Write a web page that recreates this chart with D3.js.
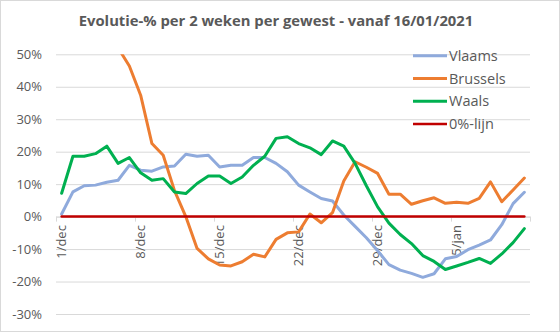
<!DOCTYPE html>
<html>
<head>
<meta charset="utf-8">
<script src="https://cdn.jsdelivr.net/npm/d3@7"></script>
<style>
  html, body { margin: 0; padding: 0; background: #fff; }
  svg { display: block; }
  text { font-family: "Open Sans", "Noto Sans", sans-serif; fill: #595959; }
</style>
</head>
<body>
<svg id="chart" width="560" height="332"></svg>
<script>
// Days from 1 December 2020 to 11 January 2021
const days = [
  "1/dec","2/dec","3/dec","4/dec","5/dec","6/dec","7/dec","8/dec","9/dec","10/dec",
  "11/dec","12/dec","13/dec","14/dec","15/dec","16/dec","17/dec","18/dec","19/dec","20/dec",
  "21/dec","22/dec","23/dec","24/dec","25/dec","26/dec","27/dec","28/dec","29/dec","30/dec",
  "31/dec","1/jan","2/jan","3/jan","4/jan","5/jan","6/jan","7/jan","8/jan","9/jan",
  "10/jan","11/jan"
];

// Two-week evolution in % per region
const vlaams = [
  0.8, 7.6, 9.5, 9.7, 10.6, 11.2, 15.8, 14.3, 14.0, 15.3,
  15.6, 19.2, 18.6, 18.9, 15.3, 15.8, 15.8, 18.2, 18.2, 16.4,
  13.8, 9.7, 7.6, 5.6, 4.8, 0.5, -3.0, -6.5, -10.5, -14.8,
  -16.5, -17.5, -18.7, -17.6, -13.0, -12.3, -10.2, -8.8, -7.2, -2.5,
  4.0, 7.5
];
const brussels = [
  null, null, null, null, null, 52, 46.4, 37.4, 22.5, 18.9,
  8.0, 0.0, -9.8, -13.0, -14.9, -15.2, -13.9, -11.6, -12.4, -7.0,
  -5.0, -4.7, 0.8, -1.9, 1.2, 11.0, 16.9, 15.2, 13.3, 6.9,
  6.9, 3.8, 4.9, 5.8, 4.1, 4.4, 4.1, 5.6, 10.7, 4.6,
  8.2, 11.9
];
const waals = [
  7.2, 18.6, 18.6, 19.4, 21.7, 16.4, 18.2, 13.5, 11.2, 11.7,
  7.6, 7.1, 10.2, 12.5, 12.5, 10.2, 12.2, 15.8, 18.6, 24.1,
  24.6, 22.5, 21.2, 19.1, 23.3, 21.7, 16.4, 9.5, 3.0, -2.0,
  -5.5, -8.3, -12.0, -13.8, -16.3, -15.2, -14.1, -12.9, -14.4, -11.5,
  -8.0, -3.7
];
const nulLijn = [
  0, 0, 0, 0, 0, 0, 0, 0, 0, 0,
  0, 0, 0, 0, 0, 0, 0, 0, 0, 0,
  0, 0, 0, 0, 0, 0, 0, 0, 0, 0,
  0, 0, 0, 0, 0, 0, 0, 0, 0, 0,
  0, 0
];

const seriesNames = ["Vlaams", "Brussels", "Waals", "0%-lijn"];
const seriesColors = ["#8FAADC", "#ED7D31", "#00B050", "#C00000"];
const seriesWidths = [3, 3, 3, 2.5];
const seriesValues = [vlaams, brussels, waals, nulLijn];

const yTicks = [-30, -20, -10, 0, 10, 20, 30, 40, 50];
const xLabels = ["1/dec", "8/dec", "15/dec", "22/dec", "29/dec", "5/jan"];
const titleText = "Evolutie-% per 2 weken per gewest - vanaf 16/01/2021";

const svg = d3.select("#chart");
const W = 560, H = 332;
const plot = { left: 56, right: 530, top: 54.3, bottom: 314 };

// chart border
svg.append("rect")
  .attr("x", 0.5).attr("y", 0.5)
  .attr("width", W - 1).attr("height", H - 1)
  .attr("fill", "#fff").attr("stroke", "#D9D9D9");

const x = d3.scaleBand().domain(days).range([plot.left, plot.right]).padding(0);
const xEdge = d3.scaleLinear().domain([0, days.length]).range([plot.left, plot.right]);
const y = d3.scaleLinear().domain([-30, 50]).range([plot.bottom, plot.top]);

// title
svg.append("text")
  .attr("x", 276).attr("y", 25.5)
  .attr("text-anchor", "middle")
  .style("font-size", "14.8px")
  .style("font-weight", "bold")
  .text(titleText);

// horizontal gridlines + value labels
const yAxis = d3.axisLeft(y)
  .tickValues(yTicks)
  .tickSize(-(plot.right - plot.left))
  .tickPadding(14)
  .tickFormat(d => d + "%");
const gy = svg.append("g")
  .attr("transform", `translate(${plot.left},0)`)
  .call(yAxis);
gy.select(".domain").remove();
gy.selectAll(".tick line").attr("stroke", "#D9D9D9");
gy.selectAll(".tick text")
  .style("font-size", "13px")
  .style("font-family", "'Open Sans', sans-serif")
  .attr("fill", "#595959");

// category axis at 0%: tick marks on week boundaries
const gx = svg.append("g")
  .attr("transform", `translate(0,${y(0)})`)
  .call(d3.axisBottom(xEdge).tickValues([0, 7, 14, 21, 28, 35, 42]).tickSize(5).tickSizeOuter(0).tickFormat(""));
gx.select(".domain").attr("stroke", "#D9D9D9");
gx.selectAll(".tick line").attr("stroke", "#D9D9D9");

// date labels, rotated, centred on their day
const gl = svg.append("g")
  .attr("transform", `translate(0,${y(0)})`)
  .call(d3.axisBottom(x).tickValues(xLabels).tickSize(0));
gl.select(".domain").remove();
gl.selectAll(".tick text")
  .attr("transform", "rotate(-90)")
  .attr("text-anchor", "end")
  .attr("x", -8.5)
  .attr("y", 0)
  .attr("dy", "0.36em")
  .style("font-size", "13px")
  .style("font-family", "'Open Sans', sans-serif")
  .attr("fill", "#595959");

// clip lines to the value range
svg.append("clipPath").attr("id", "plotclip")
  .append("rect")
  .attr("x", plot.left).attr("y", plot.top)
  .attr("width", plot.right - plot.left).attr("height", plot.bottom - plot.top);

const line = d3.line()
  .defined(d => d.v !== null)
  .x(d => x(d.day) + x.bandwidth() / 2)
  .y(d => y(d.v));

const lines = svg.append("g").attr("clip-path", "url(#plotclip)");
seriesValues.forEach((vals, k) => {
  lines.append("path")
    .datum(vals.map((v, i) => ({ day: days[i], v })))
    .attr("fill", "none")
    .attr("stroke", seriesColors[k])
    .attr("stroke-width", seriesWidths[k])
    .attr("stroke-linejoin", "round")
    .attr("stroke-linecap", "round")
    .attr("d", line);
});

// legend
const legend = svg.append("g");
seriesNames.forEach((name, k) => {
  const ly = 55.7 + k * 22.8;
  legend.append("line")
    .attr("x1", 413).attr("x2", 447)
    .attr("y1", ly).attr("y2", ly)
    .attr("stroke", seriesColors[k])
    .attr("stroke-width", seriesWidths[k]);
  legend.append("text")
    .attr("x", 449).attr("y", ly)
    .attr("dy", "0.35em")
    .style("font-size", "14.5px")
    .text(name);
});
</script>
</body>
</html>
